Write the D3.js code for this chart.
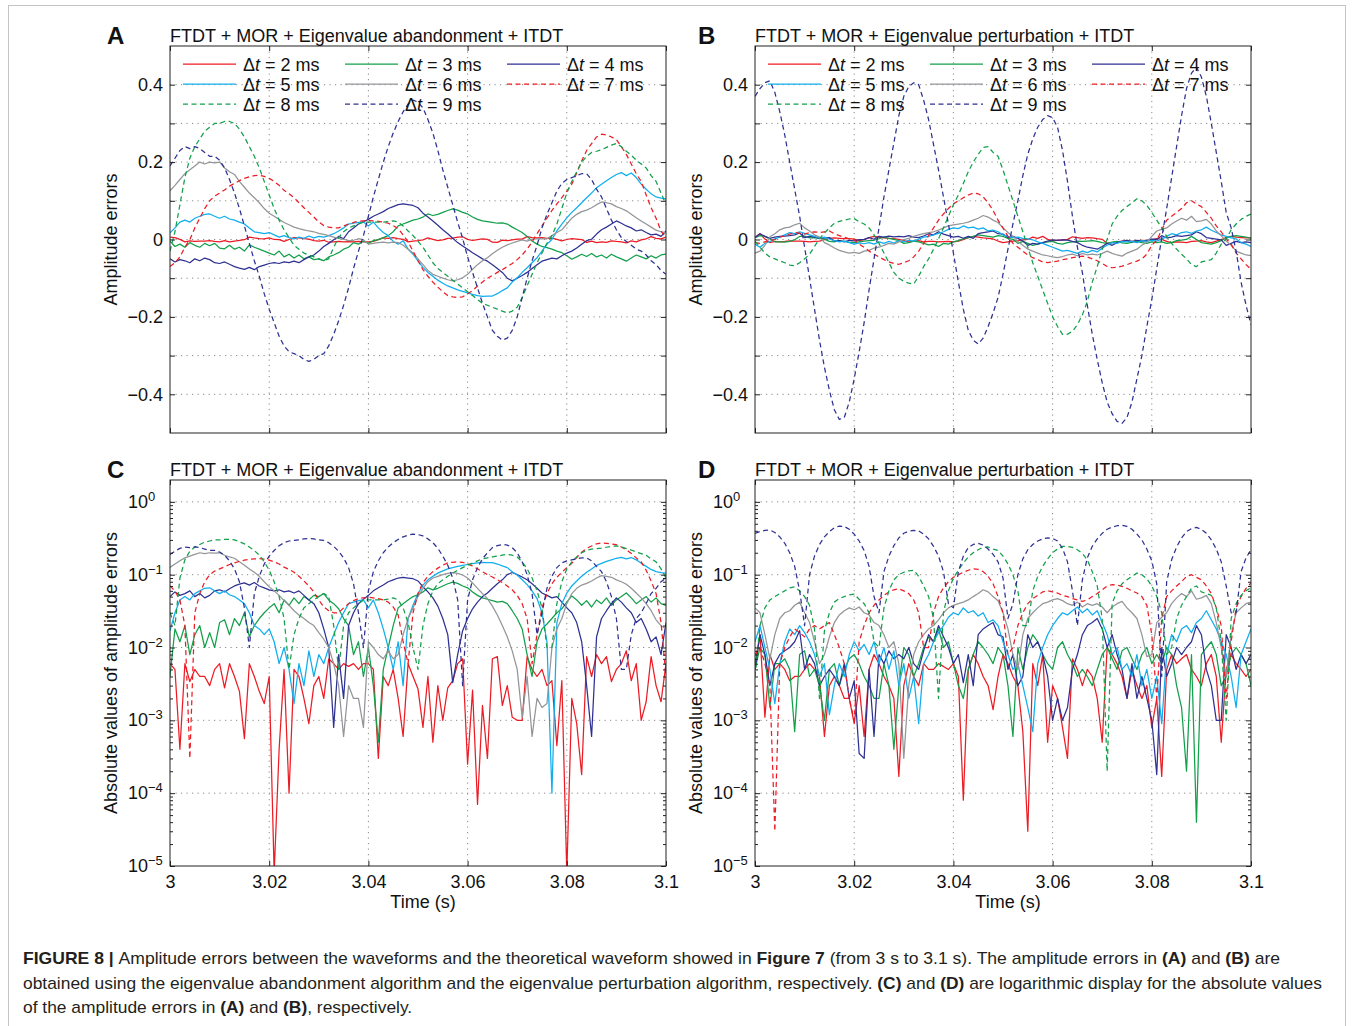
<!DOCTYPE html>
<html>
<head>
<meta charset="utf-8">
<script src="https://cdn.jsdelivr.net/npm/d3@7"></script>
<style>
  body { margin: 0; background: #fff; }
  text { font-family: "Liberation Sans", Arial, Helvetica, sans-serif; }
</style>
</head>
<body>
<div id="chart"></div>
<script>
// time axis: one sample per millisecond from 3.000 s to 3.100 s
const timeMs = d3.range(0, 101);

const dtLabels = [2, 3, 4, 5, 6, 7, 8, 9];

// ---- (A) eigenvalue abandonment: amplitude errors
const abandonDt2 = [
  0.006, 0.005, 0.0004, -0.006, -0.0034, -0.005, -0.004, -0.004, -0.003, -0.005,
  -0.006, -0.0028, -0.006, -0.004, -0.0025, -0.00056, 0.006, 0.004, 0.0025, 0.0017,
  0.004, 0.000008, -0.0004, -0.005, -0.0001, 0.005, 0.004, 0.002, 0.0009, -0.003,
  -0.004, -0.002, -0.007, -0.006, -0.005, -0.006, -0.0055, -0.006, -0.005, -0.006,
  -0.006, -0.005, -0.0003, 0.004, 0.003, 0.005, 0.002, 0.0006, -0.006, -0.004,
  -0.0027, -0.0008, 0.004, 0.0005, -0.003, -0.001, 0.0028, 0.0035, 0.006, 0.007,
  0.00025, -0.0026, -0.00007, 0.0016, 0.0003, -0.007, -0.0075, -0.0016, -0.003, -0.0011,
  0.001, 0.001, 0.0075, 0.005, 0.004, 0.005, 0.003, 0.0035, 0.00045, -0.0035,
  -0.000008, 0.002, 0.0009, -0.00018, -0.0075, -0.004, -0.008, -0.006, -0.0075, -0.0034,
  -0.005, -0.006, -0.009, -0.0035, -0.006, -0.001, 0.0018, 0.0075, 0.003, 0.0018,
  0.006];
const abandonDt3 = [
  -0.004, -0.018, -0.012, -0.02, -0.008, -0.015, -0.02, -0.01, -0.016, -0.01,
  -0.022, -0.024, -0.015, -0.025, -0.02, -0.03, -0.014, -0.02, -0.025, -0.03,
  -0.035, -0.04, -0.03, -0.045, -0.038, -0.048, -0.04, -0.05, -0.045, -0.052,
  -0.05, -0.055, -0.045, -0.04, -0.034, -0.025, -0.02, -0.008, -0.012, -0.004,
  -0.01, -0.003, -0.0005, 0.005, 0.01, 0.02, 0.035, 0.04, 0.045, 0.05,
  0.053, 0.058, 0.066, 0.062, 0.065, 0.07, 0.075, 0.079, 0.076, 0.07,
  0.066, 0.058, 0.052, 0.048, 0.046, 0.044, 0.042, 0.043, 0.04, 0.032,
  0.025, 0.018, 0.008, -0.004, -0.012, -0.018, -0.021, -0.025, -0.03, -0.034,
  -0.042, -0.051, -0.045, -0.038, -0.044, -0.036, -0.045, -0.04, -0.048, -0.038,
  -0.045, -0.05, -0.056, -0.048, -0.04, -0.045, -0.05, -0.042, -0.048, -0.04,
  -0.038];
const abandonDt4 = [
  -0.05, -0.058, -0.052, -0.055, -0.06, -0.05, -0.055, -0.048, -0.052, -0.06,
  -0.062, -0.058, -0.064, -0.07, -0.074, -0.077, -0.072, -0.078, -0.07, -0.066,
  -0.062, -0.06, -0.062, -0.058, -0.06, -0.056, -0.06, -0.052, -0.045, -0.04,
  -0.03, -0.018, -0.01, -0.0008, 0.008, 0.002, 0.02, 0.03, 0.04, 0.046,
  0.052, 0.06, 0.066, 0.072, 0.08, 0.085, 0.09, 0.092, 0.09, 0.088,
  0.082, 0.068, 0.058, 0.048, 0.037, 0.025, 0.015, 0.0033, -0.008, -0.017,
  -0.025, -0.034, -0.042, -0.05, -0.056, -0.065, -0.075, -0.085, -0.1, -0.107,
  -0.1, -0.093, -0.085, -0.075, -0.065, -0.056, -0.052, -0.048, -0.05, -0.042,
  -0.035, -0.03, -0.022, -0.012, -0.003, 0.0006, 0.014, 0.025, 0.032, 0.04,
  0.048, 0.042, 0.035, 0.03, 0.022, 0.025, 0.018, 0.012, 0.014, 0.008,
  0.022];
const abandonDt5 = [
  0.017, 0.03, 0.045, 0.05, 0.045, 0.055, 0.06, 0.065, 0.066, 0.06,
  0.055, 0.06, 0.053, 0.05, 0.045, 0.04, 0.03, 0.02, 0.018, 0.015,
  0.018, 0.012, 0.006, 0.01, 0.005, 0.0017, 0.006, 0.003, 0.009, 0.004,
  0.008, 0.006, 0.01, 0.015, 0.022, 0.03, 0.04, 0.042, 0.044, 0.045,
  0.035, 0.045, 0.03, 0.018, 0.01, -0.005, -0.012, -0.003, -0.025, -0.038,
  -0.055, -0.072, -0.085, -0.095, -0.105, -0.113, -0.12, -0.125, -0.13, -0.134,
  -0.138, -0.142, -0.145, -0.147, -0.146, -0.146, -0.14, -0.132, -0.125, -0.11,
  -0.099, -0.085, -0.073, -0.06, -0.047, -0.03, -0.012, -0.0001, 0.022, 0.04,
  0.056, 0.07, 0.082, 0.095, 0.108, 0.12, 0.134, 0.143, 0.152, 0.16,
  0.168, 0.173, 0.165, 0.172, 0.16, 0.143, 0.13, 0.118, 0.11, 0.107,
  0.105];
const abandonDt6 = [
  0.126, 0.14, 0.155, 0.17, 0.18, 0.19, 0.2, 0.195, 0.2, 0.198,
  0.2, 0.185, 0.175, 0.168, 0.15, 0.135, 0.12, 0.108, 0.095, 0.08,
  0.068, 0.06, 0.052, 0.044, 0.038, 0.032, 0.028, 0.025, 0.022, 0.02,
  0.016, 0.013, 0.01, 0.006, 0.003, 0.0006, -0.003, -0.002, 0.002, -0.0008,
  -0.012, -0.01, -0.008, -0.007, -0.009, -0.007, -0.008, -0.015, -0.025, -0.035,
  -0.05, -0.065, -0.08, -0.09, -0.095, -0.1, -0.104, -0.107, -0.104, -0.099,
  -0.09, -0.077, -0.065, -0.055, -0.047, -0.037, -0.028, -0.02, -0.014, -0.009,
  -0.005, -0.0011, -0.004, 0.0006, 0.002, 0.0015, 0.0017, 0.01, 0.018, 0.025,
  0.04, 0.055, 0.065, 0.072, 0.076, 0.082, 0.09, 0.097, 0.095, 0.092,
  0.085, 0.08, 0.074, 0.065, 0.056, 0.048, 0.04, 0.032, 0.024, 0.02,
  0.018];
const abandonDt7 = [
  -0.07, -0.06, -0.045, -0.02, -0.0003, 0.03, 0.055, 0.08, 0.1, 0.112,
  0.12, 0.128, 0.138, 0.145, 0.152, 0.158, 0.162, 0.165, 0.166, 0.163,
  0.158, 0.15, 0.14, 0.127, 0.118, 0.108, 0.095, 0.082, 0.07, 0.058,
  0.045, 0.036, 0.032, 0.03, 0.03, 0.035, 0.04, 0.044, 0.047, 0.048,
  0.049, 0.048, 0.047, 0.045, 0.042, 0.036, 0.028, 0.012, -0.006, -0.03,
  -0.055, -0.078, -0.095, -0.11, -0.123, -0.135, -0.145, -0.148, -0.15, -0.148,
  -0.14, -0.132, -0.12, -0.11, -0.1, -0.093, -0.085, -0.078, -0.07, -0.062,
  -0.052, -0.04, -0.025, -0.006, 0.015, 0.035, 0.055, 0.075, 0.092, 0.108,
  0.125, 0.143, 0.172, 0.203, 0.23, 0.248, 0.265, 0.272, 0.27, 0.265,
  0.258, 0.24, 0.22, 0.195, 0.17, 0.15, 0.115, 0.082, 0.055, 0.022,
  0.004];
const abandonDt8 = [
  -0.03, 0.02, 0.09, 0.16, 0.21, 0.24, 0.26, 0.28, 0.29, 0.3,
  0.3, 0.305, 0.305, 0.3, 0.285, 0.265, 0.24, 0.215, 0.185, 0.15,
  0.115, 0.08, 0.05, 0.025, 0.005, -0.015, -0.025, -0.035, -0.04, -0.045,
  -0.05, -0.055, -0.05, -0.02, 0.005, 0.02, 0.03, 0.035, 0.04, 0.045,
  0.045, 0.045, 0.045, 0.045, 0.046, 0.048, 0.045, 0.035, 0.022, 0.01,
  -0.005, -0.02, -0.04, -0.06, -0.075, -0.085, -0.095, -0.105, -0.115, -0.125,
  -0.135, -0.145, -0.155, -0.165, -0.17, -0.175, -0.18, -0.185, -0.19, -0.185,
  -0.175, -0.15, -0.12, -0.09, -0.06, -0.035, -0.01, 0.01, 0.04, 0.08,
  0.12, 0.15, 0.175, 0.2, 0.215, 0.225, 0.228, 0.232, 0.238, 0.244,
  0.248, 0.24, 0.228, 0.218, 0.205, 0.195, 0.185, 0.165, 0.15, 0.12,
  0.09];
const abandonDt9 = [
  0.19, 0.21, 0.23, 0.24, 0.235, 0.24, 0.235, 0.225, 0.215, 0.215,
  0.205, 0.185, 0.155, 0.12, 0.08, 0.035, -0.01, -0.055, -0.095, -0.14,
  -0.18, -0.215, -0.25, -0.275, -0.29, -0.295, -0.3, -0.31, -0.315, -0.31,
  -0.3, -0.295, -0.275, -0.245, -0.21, -0.17, -0.125, -0.075, -0.03, 0.01,
  0.06, 0.11, 0.155, 0.2, 0.24, 0.275, 0.305, 0.33, 0.35, 0.36,
  0.355, 0.34, 0.31, 0.275, 0.23, 0.18, 0.135, 0.09, 0.045, 0.003,
  -0.045, -0.085, -0.125, -0.165, -0.2, -0.235, -0.25, -0.26, -0.255, -0.235,
  -0.2, -0.15, -0.1, -0.055, -0.015, 0.03, 0.065, 0.095, 0.125, 0.145,
  0.155, 0.16, 0.165, 0.17, 0.17, 0.155, 0.13, 0.11, 0.08, 0.05,
  0.025, 0.005, -0.005, -0.015, -0.025, -0.03, -0.04, -0.055, -0.065, -0.08,
  -0.09];

// ---- (B) eigenvalue perturbation
const perturbDt2 = [
  0.006, 0.015, 0.0011, -0.008, -0.005, -0.006, -0.005, -0.0035, -0.004, -0.004,
  -0.005, -0.006, -0.005, -0.004, -0.0006, 0.003, 0.004, 0.003, 0.002, 0.002,
  0.0009, -0.003, -0.0006, 0.005, 0.008, 0.006, 0.004, 0.003, 0.002, 0.00017,
  -0.003, -0.006, -0.004, -0.003, -0.006, -0.005, -0.005, -0.006, -0.0055, -0.005,
  -0.006, -0.004, -0.00008, 0.005, 0.008, 0.006, 0.004, 0.003, 0.0014, -0.004,
  -0.008, -0.006, -0.004, -0.003, -0.0007, 0.00003, 0.006, 0.003, 0.008, 0.0005,
  -0.003, -0.002, -0.0008, 0.0003, 0.007, 0.005, 0.003, 0.005, 0.004, 0.002,
  0.0005, -0.01, -0.008, -0.006, -0.004, -0.002, -0.005, -0.003, -0.002, -0.003,
  -0.0008, 0.002, 0.00017, -0.005, -0.008, -0.006, -0.007, -0.008, -0.005, -0.004,
  -0.003, -0.006, -0.008, -0.004, -0.0005, 0.005, 0.008, 0.006, 0.005, 0.004,
  0.005];
const perturbDt3 = [
  0.005, 0.01, 0.008, 0.0015, -0.006, -0.006, -0.007, -0.005, -0.0007, 0.008,
  0.009, 0.004, 0.005, 0.003, 0.001, -0.005, -0.006, -0.003, -0.005, -0.007,
  -0.008, -0.006, -0.004, -0.003, -0.002, 0.002, 0.006, 0.003, 0.0004, -0.003,
  -0.01, -0.008, -0.004, -0.006, -0.01, -0.014, -0.012, -0.018, -0.01, -0.012,
  -0.006, -0.003, 0.002, 0.005, 0.008, 0.012, 0.01, 0.008, 0.006, 0.01,
  0.008, 0.003, 0.0006, -0.01, -0.005, -0.01, -0.015, -0.012, -0.008, -0.006,
  -0.005, -0.01, -0.012, -0.008, -0.006, -0.004, -0.005, -0.004, -0.003, -0.005,
  -0.008, -0.01, -0.007, -0.005, -0.009, -0.01, -0.007, -0.005, -0.008, -0.01,
  -0.006, -0.008, -0.006, -0.01, -0.008, -0.003, -0.0015, 0.0002, 0.008, 0.00004,
  -0.008, -0.01, -0.012, -0.008, -0.003, 0.004, 0.008, 0.01, 0.008, 0.006,
  0.003];
const perturbDt4 = [
  0.005, 0.015, 0.008, 0.003, 0.006, 0.008, 0.009, 0.01, 0.012, 0.017,
  0.005, 0.008, 0.006, 0.003, 0.004, 0.005, -0.004, -0.003, -0.006, -0.002,
  -0.0035, -0.00035, 0.0003, 0.005, 0.0006, 0.008, 0.006, 0.009, 0.007, 0.008,
  0.007, 0.01, 0.006, 0.005, 0.009, 0.015, 0.012, 0.02, 0.014, 0.01,
  0.006, 0.008, 0.0033, 0.008, 0.003, 0.015, 0.018, 0.02, 0.022, 0.015,
  0.014, 0.005, 0.008, 0.003, -0.004, -0.015, -0.01, -0.012, -0.008, -0.004,
  -0.001, -0.002, -0.001, -0.0015, -0.005, -0.008, -0.015, -0.02, -0.022, -0.025,
  -0.018, -0.01, -0.015, -0.008, -0.005, -0.002, -0.006, -0.002, -0.004, -0.002,
  0.001, 0.00018, 0.01, 0.004, 0.006, 0.01, 0.008, 0.01, 0.012, 0.02,
  0.015, 0.005, 0.003, 0.001, -0.001, -0.015, -0.01, -0.005, -0.008, -0.006,
  -0.008];
const perturbDt5 = [
  -0.012, -0.02, -0.01, -0.005, 0.0017, 0.006, 0.012, 0.018, 0.015, 0.02,
  0.016, 0.012, 0.008, 0.004, 0.006, 0.0012, -0.003, -0.006, -0.004, -0.008,
  -0.012, -0.009, -0.011, -0.008, -0.012, -0.006, -0.01, -0.005, -0.009, -0.003,
  -0.006, -0.002, -0.004, 0.0009, 0.006, 0.008, 0.012, 0.016, 0.02, 0.026,
  0.03, 0.028, 0.035, 0.03, 0.032, 0.027, 0.03, 0.022, 0.024, 0.02,
  0.012, 0.008, 0.005, 0.006, 0.003, 0.0015, -0.0007, -0.006, -0.01, -0.015,
  -0.02, -0.025, -0.03, -0.028, -0.032, -0.036, -0.03, -0.034, -0.028, -0.032,
  -0.022, -0.015, -0.008, -0.01, -0.005, -0.006, -0.004, -0.008, -0.003, -0.005,
  -0.002, -0.004, 0.0009, 0.008, 0.015, 0.012, 0.018, 0.02, 0.016, 0.022,
  0.025, 0.032, 0.024, 0.018, 0.012, 0.008, 0.004, 0.0015, -0.008, -0.012,
  -0.018];
const perturbDt6 = [
  -0.035, -0.03, -0.015, 0.007, 0.015, 0.025, 0.03, 0.032, 0.038, 0.042,
  0.03, 0.022, 0.012, 0.006, -0.008, -0.014, -0.022, -0.028, -0.032, -0.035,
  -0.033, -0.036, -0.03, -0.028, -0.022, -0.02, -0.015, -0.01, -0.012, -0.006,
  -0.0003, 0.003, 0.008, 0.012, 0.015, 0.018, 0.02, 0.024, 0.03, 0.035,
  0.038, 0.04, 0.042, 0.045, 0.05, 0.055, 0.062, 0.058, 0.05, 0.044,
  0.03, 0.018, 0.008, -0.005, -0.015, -0.025, -0.03, -0.035, -0.04, -0.042,
  -0.045, -0.047, -0.044, -0.04, -0.038, -0.042, -0.036, -0.04, -0.038, -0.04,
  -0.036, -0.03, -0.036, -0.04, -0.043, -0.035, -0.03, -0.025, -0.015, -0.0075,
  0.008, 0.022, 0.026, 0.03, 0.04, 0.048, 0.055, 0.05, 0.06, 0.046,
  0.048, 0.052, 0.04, 0.022, 0.01, -0.004, -0.015, -0.03, -0.035, -0.04,
  -0.042];
const perturbDt7 = [
  -0.008, -0.01, -0.006, -0.003, 0.00003, 0.006, 0.01, 0.014, 0.018, 0.016,
  0.014, 0.018, 0.02, 0.018, 0.02, 0.022, 0.015, 0.01, 0.006, 0.002,
  -0.001, -0.012, -0.02, -0.03, -0.038, -0.045, -0.052, -0.058, -0.062, -0.064,
  -0.06, -0.055, -0.045, -0.03, -0.01, 0.01, 0.03, 0.05, 0.066, 0.08,
  0.092, 0.1, 0.108, 0.115, 0.12, 0.118, 0.11, 0.095, 0.075, 0.05,
  0.03, 0.008, -0.01, -0.02, -0.03, -0.04, -0.047, -0.052, -0.058, -0.06,
  -0.058, -0.056, -0.052, -0.05, -0.047, -0.045, -0.043, -0.045, -0.05, -0.055,
  -0.062, -0.07, -0.073, -0.072, -0.069, -0.065, -0.06, -0.056, -0.05, -0.038,
  -0.015, -0.002, 0.025, 0.05, 0.06, 0.07, 0.08, 0.095, 0.1, 0.092,
  0.085, 0.07, 0.055, 0.035, 0.02, 0.002, -0.012, -0.035, -0.05, -0.065,
  -0.077];
const perturbDt8 = [
  -0.004, -0.02, -0.035, -0.045, -0.05, -0.055, -0.06, -0.066, -0.068, -0.06,
  -0.05, -0.038, -0.018, 0.002, 0.017, 0.03, 0.042, 0.047, 0.05, 0.053,
  0.054, 0.046, 0.04, 0.03, 0.012, -0.01, -0.035, -0.06, -0.085, -0.1,
  -0.108, -0.113, -0.115, -0.095, -0.07, -0.05, -0.025, 0.002, 0.03, 0.06,
  0.09, 0.115, 0.145, 0.175, 0.2, 0.22, 0.238, 0.24, 0.225, 0.215,
  0.18, 0.14, 0.1, 0.06, 0.02, -0.02, -0.06, -0.095, -0.13, -0.165,
  -0.2, -0.225, -0.245, -0.245, -0.237, -0.22, -0.195, -0.16, -0.11, -0.07,
  -0.025, -0.0002, 0.04, 0.06, 0.075, 0.085, 0.095, 0.105, 0.1, 0.088,
  0.07, 0.05, 0.03, 0.008, -0.01, -0.025, -0.038, -0.05, -0.065, -0.07,
  -0.058, -0.055, -0.052, -0.035, -0.012, 0.001, 0.025, 0.04, 0.052, 0.06,
  0.066];
const perturbDt9 = [
  0.37, 0.39, 0.405, 0.41, 0.38, 0.33, 0.27, 0.2, 0.13, 0.06,
  -0.02, -0.1, -0.18, -0.26, -0.33, -0.39, -0.44, -0.465, -0.46, -0.42,
  -0.36, -0.29, -0.215, -0.13, -0.05, 0.03, 0.11, 0.18, 0.25, 0.32,
  0.37, 0.395, 0.405, 0.4, 0.36, 0.31, 0.245, 0.18, 0.11, 0.04,
  -0.035, -0.11, -0.18, -0.235, -0.26, -0.27, -0.255, -0.225, -0.19, -0.15,
  -0.09, -0.025, 0.04, 0.1, 0.165, 0.22, 0.26, 0.29, 0.31, 0.32,
  0.315, 0.29, 0.23, 0.15, 0.06, -0.02, -0.085, -0.17, -0.245, -0.31,
  -0.37, -0.42, -0.45, -0.47, -0.475, -0.46, -0.42, -0.36, -0.3, -0.225,
  -0.155, -0.075, 0.004, 0.08, 0.16, 0.24, 0.32, 0.39, 0.43, 0.445,
  0.42, 0.37, 0.3, 0.225, 0.15, 0.07, 0.03, -0.03, -0.11, -0.17,
  -0.22];

const abandonSeries = [abandonDt2, abandonDt3, abandonDt4, abandonDt5, abandonDt6, abandonDt7, abandonDt8, abandonDt9];
const perturbSeries = [perturbDt2, perturbDt3, perturbDt4, perturbDt5, perturbDt6, perturbDt7, perturbDt8, perturbDt9];

// ticks and labels
const xTicks = [3, 3.02, 3.04, 3.06, 3.08, 3.1];
const xGrid = [3.02, 3.04, 3.06, 3.08];
const yTicksLin = [-0.4, -0.3, -0.2, -0.1, 0, 0.1, 0.2, 0.3, 0.4];
const yLabelsLin = [-0.4, -0.2, 0, 0.2, 0.4];
const logDecades = [1e-5, 1e-4, 1e-3, 1e-2, 1e-1, 1];

const titleAbandon = "FTDT + MOR + Eigenvalue abandonment + ITDT";
const titlePerturb = "FTDT + MOR + Eigenvalue perturbation + ITDT";

// styles (kept apart from data)
const seriesColors = ["#ed1c24", "#12a04a", "#2e3192", "#10aeef", "#939598", "#ed1c24", "#12a04a", "#2e3192"];
const seriesDashed = [false, false, false, false, false, true, true, true];

const width = 1354, height = 1026;
const plotW = 496;
const fontFamily = '"Liberation Sans", Arial, Helvetica, sans-serif';

const svg = d3.select("#chart")
  .append("svg")
    .attr("width", width)
    .attr("height", height);

svg.append("rect").attr("width", width).attr("height", height).attr("fill", "#fff");

// outer frame of the figure
svg.append("rect")
  .attr("x", 8.5).attr("y", 5.5)
  .attr("width", 1337).attr("height", 1040)
  .attr("fill", "none")
  .attr("stroke", "#c4c4c4");

const panels = [
  {letter: "A", left: 170, top: 46, h: 387, log: false, series: abandonSeries, title: titleAbandon, letterX: 107},
  {letter: "B", left: 755, top: 46, h: 387, log: false, series: perturbSeries, title: titlePerturb, letterX: 698},
  {letter: "C", left: 170, top: 480, h: 386, log: true, series: abandonSeries, title: titleAbandon, letterX: 107},
  {letter: "D", left: 755, top: 480, h: 386, log: true, series: perturbSeries, title: titlePerturb, letterX: 698}
];

panels.forEach(p => drawPanel(p));

function styleAxis(a) {
  a.select(".domain").remove();
  a.selectAll("line").attr("stroke", "#222");
  a.selectAll("text")
    .attr("font-family", fontFamily)
    .attr("font-size", 18)
    .attr("fill", "#111");
}

function drawPanel(p) {
  const h = p.h;
  const g = svg.append("g").attr("transform", `translate(${p.left}, ${p.top})`);

  const xScale = d3.scaleLinear().domain([3, 3.1]).range([0, plotW]);
  const yScale = p.log
    ? d3.scaleLog().domain([1e-5, Math.pow(10, 0.3)]).range([h, 0])
    : d3.scaleLinear().domain([-0.5, 0.5]).range([h, 0]);

  // dotted grid
  const gridY = p.log ? logDecades.slice(1) : yTicksLin;
  const grid = g.append("g")
    .attr("stroke", "#8a8a8a")
    .attr("stroke-width", 1)
    .attr("stroke-dasharray", "1.2,4.3");
  grid.selectAll(".gx").data(xGrid).join("line")
    .attr("x1", d => xScale(d)).attr("x2", d => xScale(d))
    .attr("y1", 0).attr("y2", h);
  grid.selectAll(".gy").data(gridY).join("line")
    .attr("class", "gy")
    .attr("x1", 0).attr("x2", plotW)
    .attr("y1", d => yScale(d)).attr("y2", d => yScale(d));

  // data lines
  const clipId = "clip" + p.letter;
  g.append("clipPath").attr("id", clipId)
    .append("rect").attr("width", plotW).attr("height", h);

  const line = d3.line()
    .x((d, i) => xScale(3 + timeMs[i] / 1000))
    .y(d => yScale(p.log ? Math.max(Math.abs(d), 1e-7) : d));

  g.append("g")
    .attr("clip-path", `url(#${clipId})`)
    .selectAll("path")
    .data(p.series)
    .join("path")
      .attr("d", line)
      .attr("fill", "none")
      .attr("stroke", (d, i) => seriesColors[i])
      .attr("stroke-width", 1.25)
      .attr("stroke-linejoin", "round")
      .attr("stroke-dasharray", (d, i) => seriesDashed[i] ? "5,3.5" : null);

  // axes with inward ticks on all four sides
  const bottomAxis = d3.axisBottom(xScale)
    .tickValues(xTicks)
    .tickSize(-5)
    .tickPadding(9)
    .tickFormat(p.log ? (d => String(d)) : "");
  g.append("g").attr("transform", `translate(0, ${h})`).call(bottomAxis).call(styleAxis);

  g.append("g")
    .call(d3.axisTop(xScale).tickValues(xTicks).tickSize(-5).tickFormat(""))
    .call(styleAxis);

  const yTickVals = p.log ? logDecades : yTicksLin;
  const fmtLin = d => yLabelsLin.includes(d) ? (d < 0 ? "\u2212" + (-d) : String(d)) : "";
  g.append("g")
    .call(d3.axisLeft(yScale).tickValues(yTickVals).tickSize(-5).tickPadding(7)
      .tickFormat(p.log ? "" : fmtLin))
    .call(styleAxis);
  g.append("g")
    .attr("transform", `translate(${plotW}, 0)`)
    .call(d3.axisRight(yScale).tickValues(yTickVals).tickSize(-5).tickFormat(""))
    .call(styleAxis);

  if (p.log) {
    // minor log ticks
    const top = Math.pow(10, 0.3);
    const minor = [];
    logDecades.forEach(dec => [2, 3, 4, 5, 6, 7, 8, 9].forEach(m => { if (m * dec < top) minor.push(m * dec); }));
    g.append("g")
      .call(d3.axisLeft(yScale).tickValues(minor).tickSize(-3).tickFormat(""))
      .call(styleAxis);
    g.append("g")
      .attr("transform", `translate(${plotW}, 0)`)
      .call(d3.axisRight(yScale).tickValues(minor).tickSize(-3).tickFormat(""))
      .call(styleAxis);

    // 10^n labels
    g.append("g")
      .selectAll("text")
      .data(logDecades)
      .join("text")
        .attr("x", -42)
        .attr("y", d => yScale(d) + 6)
        .attr("font-size", 18)
        .attr("fill", "#111")
        .each(function (d) {
          const e = Math.round(Math.log10(d));
          const t = d3.select(this);
          t.append("tspan").text("10");
          t.append("tspan").attr("dy", -7).attr("font-size", 13)
            .text(e === 0 ? "0" : "\u2212" + (-e));
        });

    g.append("text")
      .text("Time (s)")
      .attr("x", plotW / 2 + 5)
      .attr("y", h + 42)
      .attr("text-anchor", "middle")
      .attr("font-size", 18)
      .attr("fill", "#111");
  }

  // frame
  g.append("rect")
    .attr("width", plotW).attr("height", h)
    .attr("fill", "none")
    .attr("stroke", "#222")
    .attr("stroke-width", 1);

  // y label
  svg.append("text")
    .text(p.log ? "Absolute values of amplitude errors" : "Amplitude errors")
    .attr("transform", `translate(${p.left - 53}, ${p.top + h / 2}) rotate(-90)`)
    .attr("text-anchor", "middle")
    .attr("font-size", 18)
    .attr("fill", "#111");

  // title and panel letter
  svg.append("text")
    .text(p.title)
    .attr("x", p.left)
    .attr("y", p.top - 4.5)
    .attr("font-size", 18)
    .attr("fill", "#111");
  svg.append("text")
    .text(p.letter)
    .attr("x", p.letterX)
    .attr("y", p.top - 2)
    .attr("font-size", 24)
    .attr("font-weight", "bold")
    .attr("fill", "#111");

  // legend (linear panels only)
  if (!p.log) {
    const colX = [13, 175, 337];
    const rowY = [18, 38, 58];
    const lg = g.append("g");
    dtLabels.forEach((dt, i) => {
      const cx = colX[i % 3], cy = rowY[Math.floor(i / 3)];
      lg.append("line")
        .attr("x1", cx).attr("x2", cx + 53)
        .attr("y1", cy).attr("y2", cy)
        .attr("stroke", seriesColors[i])
        .attr("stroke-width", 1.25)
        .attr("stroke-dasharray", seriesDashed[i] ? "5,3.5" : null);
      const t = lg.append("text")
        .attr("x", cx + 60)
        .attr("y", cy + 6.5)
        .attr("font-size", 18)
        .attr("fill", "#111");
      t.append("tspan").text("\u0394");
      t.append("tspan").attr("font-style", "italic").text("t");
      t.append("tspan").text(` = ${dt} ms`);
    });
  }
}

// caption
const captionLines = [
  [["FIGURE 8 | ", true], ["Amplitude errors between the waveforms and the theoretical waveform showed in ", false],
   ["Figure 7", true], [" (from 3 s to 3.1 s). The amplitude errors in ", false], ["(A)", true], [" and ", false],
   ["(B)", true], [" are", false]],
  [["obtained using the eigenvalue abandonment algorithm and the eigenvalue perturbation algorithm, respectively. ", false],
   ["(C)", true], [" and ", false], ["(D)", true], [" are logarithmic display for the absolute values", false]],
  [["of the amplitude errors in ", false], ["(A)", true], [" and ", false], ["(B)", true], [", respectively.", false]]
];
const captionWidths = [1257, 1299, null];
let ratio = 1;
captionLines.forEach((parts, li) => {
  const t = svg.append("text")
    .attr("x", 23)
    .attr("y", 964 + li * 24.5)
    .attr("font-size", 17)
    .attr("fill", "#231f20");
  parts.forEach(([s, bold]) => {
    t.append("tspan").text(s).attr("font-weight", bold ? "bold" : null);
  });
  const natural = t.node().getComputedTextLength();
  if (captionWidths[li]) ratio = captionWidths[li] / natural;
  t.attr("textLength", natural * ratio).attr("lengthAdjust", "spacingAndGlyphs");
});
</script>
</body>
</html>
